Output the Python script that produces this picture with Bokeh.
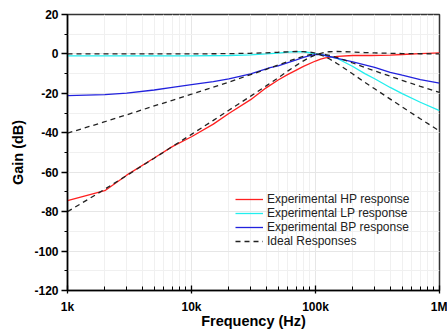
from bokeh.plotting import figure
from bokeh.models import FixedTicker, Legend, LegendItem
from bokeh.embed import file_html
from bokeh.resources import INLINE

# ---- data ----
freq_ideal = [1e3, 1.5e3, 2e3, 3e3, 5e3, 7e3, 1e4, 1.5e4, 2e4, 3e4, 4e4, 5e4, 6e4, 7e4,
              8e4, 9e4, 1e5, 1.2e5, 1.3e5, 1.5e5, 2e5, 2.5e5, 3e5, 5e5, 7e5, 1e6]
ideal_lp = [0, 0, 0, 0, 0, 0, 0.04, 0.09, 0.15, 0.34, 0.58, 0.84, 1.08, 1.23,
            1.21, 0.94, 0.38, -1.46, -2.59, -4.95, -10.2, -14.4, -17.7, -26.9, -32.9, -39.1]
ideal_hp = [-80.0, -73.4, -68.6, -61.7, -52.9, -47.0, -40.8, -33.7, -28.6, -21.4, -16.2, -12.1,
            -8.6, -5.8, -3.5, -1.7, -0.5, 0.9, 1.1, 1.25, 1.0, 0.7, 0.5, 0.2, 0.1, 0.05]
ideal_bp = [-40.2, -36.8, -34.4, -30.9, -26.4, -23.5, -20.4, -16.8, -14.3, -10.5, -7.8, -5.6,
            -3.8, -2.3, -1.2, -0.4, -0.05, -0.3, -0.7, -1.85, -4.6, -6.9, -8.6, -13.4, -16.4, -19.5]

freq_hp = [1e3, 2e3, 3e3, 5e3, 7e3, 1e4, 1.5e4, 2e4, 3e4, 4e4, 5e4, 6e4, 7e4, 8e4, 1e5, 1.1e5,
           1.2e5, 1.5e5, 2e5, 2.8e5, 4e5, 5e5, 7e5, 1e6]
exp_hp = [-74.4, -69.4, -61.5, -52.8, -47.0, -42.0, -35.6, -30.2, -23.2, -17.2, -13.2, -10.4,
          -8.2, -6.3, -3.6, -2.6, -2.0, -1.2, -0.8, -0.8, -0.6, -0.3, 0.2, 0.5]

freq_lp = [1e3, 5e3, 1e4, 2e4, 3e4, 4e4, 5e4, 6e4, 7e4, 8e4, 9e4, 1e5, 1.1e5, 1.2e5, 1.5e5,
           2e5, 2.5e5, 3e5, 4e5, 5e5, 7e5, 1e6]
exp_lp = [-1.0, -1.0, -1.0, -0.8, -0.5, 0.0, 0.4, 0.9, 1.2, 1.1, 0.6, 0.0, -0.4, -0.8, -2.3,
          -6.4, -10.0, -12.6, -17.0, -20.1, -24.5, -28.8]

freq_bp = [1e3, 2e3, 3e3, 5e3, 7e3, 1e4, 1.5e4, 2e4, 3e4, 4.3e4, 5e4, 7e4, 8e4, 9e4, 1e5,
           1.1e5, 1.2e5, 1.5e5, 2e5, 3e5, 4e5, 5e5, 7e5, 1e6]
exp_bp = [-21.2, -20.6, -19.9, -18.3, -17.0, -15.6, -14.0, -12.6, -10.1, -7.0, -6.0, -3.0,
          -1.8, -0.8, -0.3, -0.3, -0.8, -2.2, -4.0, -6.8, -9.3, -10.8, -13.0, -14.8]

x_ticks = [1000, 10000, 100000, 1000000]
x_tick_labels = ["1k", "10k", "100k", "1M"]
y_ticks = [-120, -100, -80, -60, -40, -20, 0, 20]
y_tick_labels = ["-120", "-100", "-80", "-60", "-40", "-20", "0", "20"]

FONT = "Liberation Sans"

p = figure(width=447, height=331, x_axis_type="log", x_range=(1e3, 1e6), y_range=(-120, 20),
           output_backend="svg", toolbar_location=None,
           min_border_left=67, min_border_right=8, min_border_top=14, min_border_bottom=41)
p.background_fill_color = "white"
p.border_fill_color = "white"
p.outline_line_color = "#333333"
p.outline_line_width = 1.5

x_minor = [m * d for d in [1e3, 1e4, 1e5] for m in range(2, 10)]
p.xaxis.ticker = FixedTicker(ticks=x_ticks, minor_ticks=x_minor)
p.xaxis.major_label_overrides = {t: s for t, s in zip(x_ticks, x_tick_labels)}
y_minor = list(range(-120, 21, 10))
p.yaxis.ticker = FixedTicker(ticks=y_ticks, minor_ticks=y_minor)
p.yaxis.major_label_overrides = {t: s for t, s in zip(y_ticks, y_tick_labels)}

for ax in (p.xaxis[0], p.yaxis[0]):
    ax.axis_line_color = "black"
    ax.axis_line_width = 1.5
    ax.major_tick_line_color = "black"
    ax.minor_tick_line_color = "black"
    ax.major_tick_line_width = 1.3
    ax.minor_tick_line_width = 1.0
    ax.major_label_text_font = FONT
    ax.major_label_text_font_style = "bold"
    ax.major_label_text_font_size = "12px"
    ax.major_label_text_color = "black"
    ax.axis_label_text_font = FONT
    ax.axis_label_text_font_style = "bold"
    ax.axis_label_text_font_size = "14.5px"
    ax.axis_label_text_color = "black"

p.xaxis.major_tick_in = 5
p.xaxis.major_tick_out = 3
p.xaxis.minor_tick_in = 4
p.xaxis.minor_tick_out = 0
p.xaxis.major_label_standoff = 6
p.xaxis.axis_label = "Frequency (Hz)"
p.xaxis.axis_label_standoff = -4

p.yaxis.major_tick_in = 0
p.yaxis.major_tick_out = 6
p.yaxis.minor_tick_in = 0
p.yaxis.minor_tick_out = 3
p.yaxis.major_label_standoff = 3
p.yaxis.axis_label = "Gain (dB)"
p.yaxis.axis_label_standoff = 5

for g in (p.xgrid[0], p.ygrid[0]):
    g.grid_line_color = "#e6e6e6"
    g.grid_line_width = 1
    g.minor_grid_line_color = "#f0f0f0"
    g.minor_grid_line_width = 1

lw = 1.3
r_hp = p.line(freq_hp, exp_hp, line_color="#ff2020", line_width=lw)
r_lp = p.line(freq_lp, exp_lp, line_color="#22eeee", line_width=lw)
r_bp = p.line(freq_bp, exp_bp, line_color="#2222dd", line_width=lw)
dash = "5 4"
r_i1 = p.line(freq_ideal, ideal_hp, line_color="#222222", line_width=lw, line_dash=dash)
p.line(freq_ideal, ideal_lp, line_color="#222222", line_width=lw, line_dash=dash)
p.line(freq_ideal, ideal_bp, line_color="#222222", line_width=lw, line_dash=dash)

legend = Legend(items=[
    LegendItem(label="Experimental HP response", renderers=[r_hp]),
    LegendItem(label="Experimental LP response", renderers=[r_lp]),
    LegendItem(label="Experimental BP response", renderers=[r_bp]),
    LegendItem(label="Ideal Responses", renderers=[r_i1]),
], location=(168, 42))
legend.background_fill_alpha = 0
legend.border_line_alpha = 0
legend.padding = 0
legend.margin = 0
legend.spacing = -1
legend.label_height = 14
legend.glyph_height = 14
legend.glyph_width = 28
legend.label_standoff = 4
legend.label_text_font = FONT
legend.label_text_font_size = "12px"
legend.label_text_color = "#222222"
p.add_layout(legend, "center")

open("out.html", "w").write(file_html(p, INLINE))
